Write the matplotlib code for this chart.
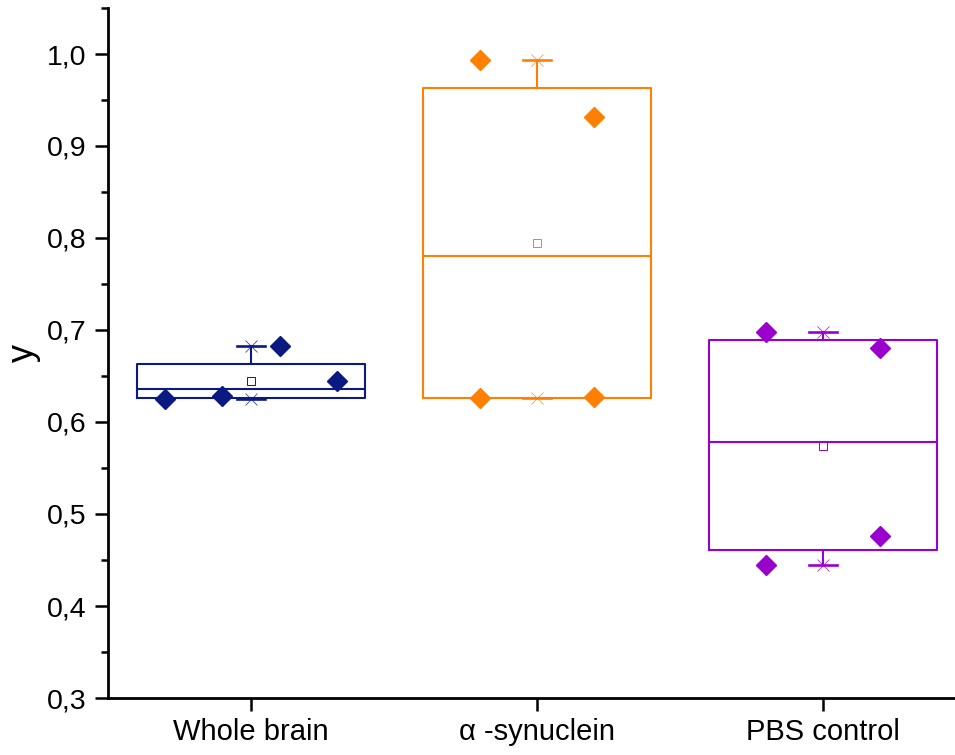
import matplotlib
matplotlib.use("Agg")
import matplotlib.pyplot as plt
from matplotlib.ticker import MultipleLocator, FuncFormatter

plt.rcParams['font.family'] = ['Liberation Sans', 'DejaVu Sans']

categories = ["Whole brain", "α -synuclein", "PBS control"]
colors = ["#0A1A80", "#FF8000", "#9A00CC"]

# raw points per group (in data order)
wb_values = [0.6245, 0.628, 0.6825, 0.6445]
as_values = [0.9935, 0.6257, 0.932, 0.6268]
pbs_values = [0.6974, 0.4447, 0.6808, 0.4759]

# box statistics
q1 = [0.6265, 0.6257, 0.4607]
q3 = [0.6634, 0.9628, 0.689]
med = [0.6364, 0.780, 0.578]
mean = [0.645, 0.795, 0.5744]
whislo = [0.6245, 0.6257, 0.4447]
whishi = [0.6830, 0.9935, 0.6974]

# horizontal spread of data points within each group
offsets = [[-0.3, -0.1, 0.1, 0.3], [-0.2, -0.2, 0.2, 0.2], [-0.2, -0.2, 0.2, 0.2]]
groups = [wb_values, as_values, pbs_values]

fig = plt.figure(figsize=(9.55, 7.55), dpi=100)
ax = fig.add_axes([108/955, 57/755, 858/955, 690/755])

for i in range(3):
    pos = i + 1
    c = colors[i]
    stats = [dict(med=med[i], q1=q1[i], q3=q3[i], whislo=whislo[i], whishi=whishi[i],
                  mean=mean[i], fliers=[], label=categories[i])]
    ax.bxp(stats, positions=[pos], widths=0.8, capwidths=0.1, showmeans=True,
           showfliers=False, manage_ticks=False,
           boxprops=dict(color=c, linewidth=1.5),
           medianprops=dict(color=c, linewidth=1.5),
           whiskerprops=dict(color=c, linewidth=1.5),
           capprops=dict(color=c, linewidth=1.9),
           meanprops=dict(marker='s', markersize=5.5, markerfacecolor='white',
                          markeredgecolor=c, markeredgewidth=0.7))
    ax.plot([pos, pos], [whislo[i], whishi[i]], linestyle='none', marker='x',
            markersize=9, markeredgewidth=0.6, color=c, alpha=0.8)
    xs = [pos + o for o in offsets[i]]
    ax.plot(xs, groups[i], linestyle='none', marker='D', markersize=10,
            color=c, zorder=5)

ax.set_xlim(0.5, 3.5)
ax.set_ylim(0.3, 1.05)
ax.set_xticks([1, 2, 3])
ax.set_xticklabels(categories, fontsize=21)
ax.yaxis.set_major_locator(MultipleLocator(0.1))
ax.yaxis.set_minor_locator(MultipleLocator(0.05))
ax.yaxis.set_major_formatter(FuncFormatter(lambda v, p: f"{v:.1f}".replace('.', ',')))
ax.tick_params(axis='y', which='major', length=9.5, width=1.8, labelsize=20.5, pad=6)
ax.tick_params(axis='y', which='minor', length=5, width=1.8)
ax.tick_params(axis='x', which='major', length=9.5, width=1.8, pad=5)
for s in ['top', 'right']:
    ax.spines[s].set_visible(False)
for s in ['left', 'bottom']:
    ax.spines[s].set_linewidth(2)
ax.set_ylabel("y", fontsize=26, labelpad=4)

fig.savefig("out.png", dpi=100)
